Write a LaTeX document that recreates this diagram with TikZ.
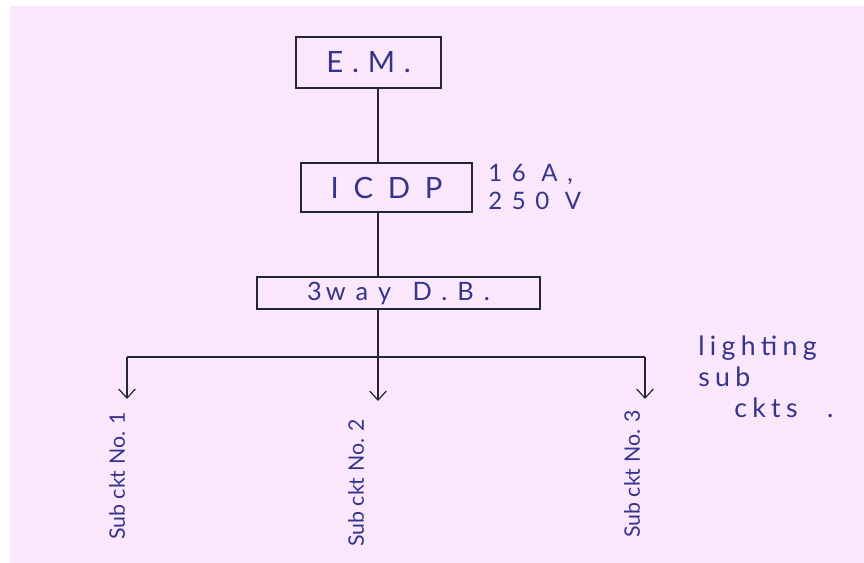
\documentclass[tikz,border=0pt]{standalone}
\usepackage{fontspec}
\setmainfont{Lato}
\newfontfamily\handfont{Lato}
\usetikzlibrary{arrows.meta,positioning}
\definecolor{paperPink}{HTML}{FBE7FB}
\definecolor{inkBlue}{HTML}{34348C}
\definecolor{inkDark}{HTML}{24243A}
\newcommand{\handsize}[2]{\handfont\fontsize{#1}{#1}\selectfont\addfontfeature{LetterSpace=#2}}
\tikzset{
  % Equipment boxes along the supply chain.
  sld/box/.style={
    draw=inkDark, line width=1.1pt, inner sep=0pt, text=inkBlue,
    font=\handsize{22}{30}
  },
  % Plain wires between the boxes.
  sld/wire/.style={draw=inkDark, line width=0.8pt},
  % Outgoing sub circuits: open barb at the end.
  sld/feed/.style={
    sld/wire, -{Straight Barb[length=2.4mm,width=4.4mm,line width=0.9pt]}
  },
  % Handwritten notes beside the diagram.
  sld/note/.style={
    text=inkBlue, inner sep=0pt, align=left, font=\handsize{18}{40}
  },
  % Circuit names, written upwards.
  sld/circ/.style={
    text=inkBlue, inner sep=0pt, rotate=90, anchor=east,
    font=\fontsize{16}{18}\selectfont
  },
}

\begin{document}
\begin{tikzpicture}[x=0.75pt,y=-0.75pt]
  \useasboundingbox (0,0) rectangle (864,563);
  \fill[paperPink] (10,6) rectangle (864,563);

  \node[sld/box, minimum width=108.75pt, minimum height=38.25pt] (em) at (368.5,62.5) {E.M.};
  \node[sld/box, minimum width=128.25pt, minimum height=36.75pt, font=\handsize{22}{50}]
       (icdp) at (386.5,187.5) {ICDP};
  \node[sld/box, minimum width=212.25pt, minimum height=24pt, font=\handsize{19}{40}]
       (db) at (398.5,293) {3\hspace{3pt}way\hspace{16pt}D.B.};
  \node[sld/note, anchor=west] (rating) at (488,187) {16 A,\\[3pt]250 V};
  \node[sld/note, anchor=north west, font=\handsize{20}{20}] (light) at (698,336)
       {lighting\\[3pt]sub\\[3pt]\hspace{27pt}ckts\hspace{22pt}.};

  \coordinate (trunk) at (378,0);
  \coordinate (b1) at (127,357);
  \coordinate (b2) at (trunk |- b1);
  \coordinate (b3) at (645,357);
  \coordinate (e1) at (127,399);
  \coordinate (e2) at (trunk |- 0,401);
  \coordinate (e3) at (645,399);

  \node[sld/circ] (c1) at (117,412) {Sub ckt No. 1};
  \node[sld/circ] (c2) at (356,419) {Sub ckt No. 2};
  \node[sld/circ] (c3) at (632,410) {Sub ckt No. 3};

  \draw[sld/wire] (em.south -| trunk) -- (icdp.north -| trunk);
  \draw[sld/wire] (icdp.south -| trunk) -- (db.north -| trunk);
  \draw[sld/wire] (db.south -| trunk) -- (b2);
  \draw[sld/wire] (b1) -- (b3);
  \draw[sld/feed] (b1) -- (e1);
  \draw[sld/feed] (b2) -- (e2);
  \draw[sld/feed] (b3) -- (e3);
\end{tikzpicture}
\end{document}
